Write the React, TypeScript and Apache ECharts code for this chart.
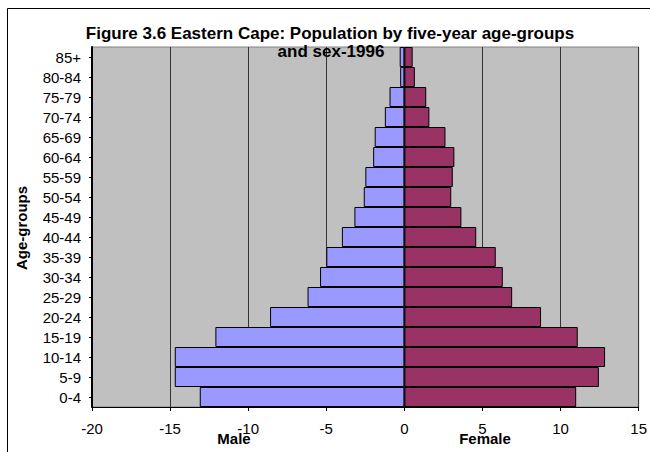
import React, { useEffect, useRef } from "react";
import * as echarts from "echarts";

const ageGroups = ["0-4", "5-9", "10-14", "15-19", "20-24", "25-29", "30-34", "35-39", "40-44", "45-49", "50-54", "55-59", "60-64", "65-69", "70-74", "75-79", "80-84", "85+"];
const maleValues = [-13.1, -14.7, -14.7, -12.1, -8.6, -6.2, -5.4, -5.0, -4.0, -3.2, -2.6, -2.5, -2.0, -1.9, -1.25, -0.95, -0.27, -0.3];
const femaleValues = [11.0, 12.45, 12.85, 11.1, 8.75, 6.9, 6.3, 5.85, 4.6, 3.65, 3.0, 3.1, 3.2, 2.63, 1.6, 1.4, 0.67, 0.53];
const xTicks = { min: -20, max: 15, interval: 5 };
const titleLines = ["Figure 3.6 Eastern Cape: Population by five-year age-groups", "and sex-1996"];

const FONT = "'Liberation Sans', Arial, sans-serif";

export default function App() {
  const ref = useRef<HTMLDivElement>(null);
  useEffect(() => {
    if (!ref.current) return;
    const chart = echarts.init(ref.current, null, { renderer: "svg" });
    chart.setOption({
      animation: false,
      backgroundColor: "#ffffff",
      textStyle: { fontFamily: FONT },
      grid: {
        left: 92, top: 47, right: 11, bottom: 45,
        show: true, backgroundColor: "#C0C0C0", borderColor: "#808080", borderWidth: 1,
      },
      xAxis: {
        type: "value",
        min: xTicks.min, max: xTicks.max, interval: xTicks.interval,
        axisLine: { show: true, lineStyle: { color: "#000", width: 1 } },
        axisTick: { show: true, length: 4, lineStyle: { color: "#000" } },
        axisLabel: { fontFamily: FONT, fontSize: 15, color: "#000", margin: 14 },
        splitLine: { show: true, lineStyle: { color: "#333", width: 1 } },
      },
      yAxis: [
        {
          type: "category",
          data: ageGroups,
          axisLine: { show: false },
          axisTick: { show: false },
          splitLine: { show: false },
          axisLabel: { fontFamily: FONT, fontSize: 15, color: "#000", margin: 11 },
        },
        {
          type: "category",
          data: ageGroups,
          position: "left",
          axisLine: { show: true, onZero: true, lineStyle: { color: "#000", width: 2 } },
          axisTick: { show: true, alignWithLabel: true, length: 3, lineStyle: { color: "#000" } },
          axisLabel: { show: false },
          splitLine: { show: false },
          z: 10,
        },
      ],
      series: [
        {
          name: "Male", type: "bar", stack: "pop", data: maleValues,
          barCategoryGap: "0%",
          itemStyle: { color: "#9999FF", borderColor: "#000", borderWidth: 1 },
        },
        {
          name: "Female", type: "bar", stack: "pop", data: femaleValues,
          barCategoryGap: "0%",
          itemStyle: { color: "#993366", borderColor: "#000", borderWidth: 1 },
        },
      ],
      graphic: [
        {
          type: "polyline",
          shape: { points: [[7.5, 452], [7.5, 8.5], [650, 8.5]] },
          style: { stroke: "#000", lineWidth: 1, fill: "none" },
          silent: true,
        },
        {
          type: "text", x: 330, y: 33, z: 100,
          style: { text: titleLines[0], font: `bold 17px ${FONT}`, fill: "#000", align: "center", verticalAlign: "middle" },
        },
        {
          type: "text", x: 331, y: 51, z: 100,
          style: { text: titleLines[1], font: `bold 17px ${FONT}`, fill: "#000", align: "center", verticalAlign: "middle" },
        },
        {
          type: "text", x: 234, y: 438,
          style: { text: "Male", font: `bold 15px ${FONT}`, fill: "#000", align: "center", verticalAlign: "middle" },
        },
        {
          type: "text", x: 485, y: 438,
          style: { text: "Female", font: `bold 15px ${FONT}`, fill: "#000", align: "center", verticalAlign: "middle" },
        },
        {
          type: "text", x: 21, y: 228, rotation: Math.PI / 2,
          style: { text: "Age-groups", font: `bold 15px ${FONT}`, fill: "#000", align: "center", verticalAlign: "middle" },
        },
      ],
    });
    return () => chart.dispose();
  }, []);
  return <div ref={ref} style={{ width: 650, height: 452, position: "absolute", left: 0, top: 0 }} />;
}
